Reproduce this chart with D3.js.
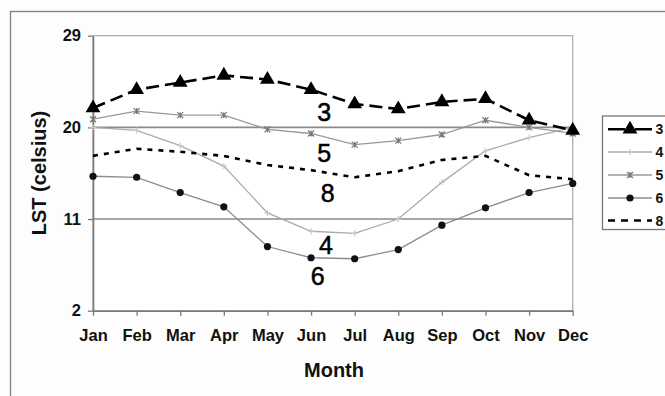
<!DOCTYPE html>
<html>
<head>
<meta charset="utf-8">
<script src="https://cdn.jsdelivr.net/npm/d3@7"></script>
<style>
  html, body { margin: 0; padding: 0; background: #fdfdfd; }
  svg { display: block; }
  text { font-family: "Liberation Sans", Arial, sans-serif; }
</style>
</head>
<body>
<svg id="chart" width="665" height="396"></svg>
<script>
const months = ["Jan","Feb","Mar","Apr","May","Jun","Jul","Aug","Sep","Oct","Nov","Dec"];
const yTicks = [2, 11, 20, 29];
const seriesNames = ["3", "4", "5", "6", "8"];
const s3 = [21.9, 23.7, 24.4, 25.1, 24.7, 23.7, 22.3, 21.8, 22.5, 22.8, 20.7, 19.7];
const s4 = [20.0, 19.7, 18.2, 16.2, 11.6, 9.8, 9.6, 11.0, 14.6, 17.7, 19.0, 20.0];
const s5 = [20.8, 21.6, 21.2, 21.2, 19.8, 19.4, 18.3, 18.7, 19.3, 20.7, 20.0, 19.4];
const s6 = [15.2, 15.1, 13.6, 12.2, 8.3, 7.2, 7.1, 8.0, 10.4, 12.1, 13.6, 14.5];
const s8 = [17.2, 17.9, 17.6, 17.2, 16.3, 15.8, 15.1, 15.7, 16.8, 17.2, 15.3, 14.9];
// inline label anchors: [series, month index, value]
const inlineLabels = [["3", 5.3, 20.6], ["5", 5.3, 16.6], ["8", 5.38, 12.7], ["4", 5.34, 7.55], ["6", 5.15, 4.52]];

const svg = d3.select("#chart");
const L = 93, R = 572.7, T = 35.7, B = 310.7;
const x = d3.scalePoint().domain(months).range([L, R]);
const y = d3.scaleLinear().domain([2, 29]).range([B, T]);
const xi = d3.scaleLinear().domain([0, 11]).range([L, R]);

// outer border
svg.append("rect").attr("x", 10.5).attr("y", 11.5).attr("width", 700).attr("height", 400)
  .attr("fill", "#fdfdfd").attr("stroke", "#808080").attr("stroke-width", 1.3);

// plot area
svg.append("rect").attr("x", L).attr("y", T).attr("width", R - L).attr("height", B - T)
  .attr("fill", "#ffffff").attr("stroke", "#a8a8a8").attr("stroke-width", 1.2);

// gridlines
svg.append("g").selectAll("line").data([11, 20]).join("line")
  .attr("x1", L).attr("x2", R).attr("y1", d => y(d)).attr("y2", d => y(d))
  .attr("stroke", "#8a8a8a").attr("stroke-width", 1.6);

// axes
const yAxis = svg.append("g").attr("transform", `translate(${L},0)`)
  .call(d3.axisLeft(y).tickValues(yTicks).tickSize(5).tickPadding(7).tickSizeOuter(0));
const xAxis = svg.append("g").attr("transform", `translate(0,${B})`)
  .call(d3.axisBottom(x).tickSize(5).tickPadding(14).tickSizeOuter(0));
[yAxis, xAxis].forEach(a => {
  a.select(".domain").attr("stroke", "#7a7a7a").attr("stroke-width", 1.6);
  a.selectAll(".tick line").attr("stroke", "#7a7a7a").attr("stroke-width", 1.3);
  a.selectAll(".tick text").attr("fill", "#111").attr("font-size", 16.5).attr("font-weight", "bold")
    .attr("font-family", "'Liberation Sans', Arial, sans-serif");
});

// axis titles
svg.append("text").attr("transform", "translate(39,173) rotate(-90)")
  .attr("text-anchor", "middle").attr("dominant-baseline", "central")
  .attr("font-size", 20).attr("font-weight", "bold").attr("fill", "#111").text("LST (celsius)");
svg.append("text").attr("x", 334).attr("y", 377).attr("text-anchor", "middle")
  .attr("font-size", 20).attr("font-weight", "bold").attr("fill", "#111").text("Month");

const line = d3.line().x((d, i) => x(months[i])).y(d => y(d));

const styles = {
  "3": { data: s3, stroke: "#000", width: 2.6, dash: "13,6", marker: "tri" },
  "4": { data: s4, stroke: "#aaaaaa", width: 1.3, dash: null, marker: "plus" },
  "5": { data: s5, stroke: "#999999", width: 1.3, dash: null, marker: "star" },
  "6": { data: s6, stroke: "#8c8c8c", width: 1.3, dash: null, marker: "dot" },
  "8": { data: s8, stroke: "#000", width: 2.6, dash: "5,6", marker: null }
};

function drawMarker(g, type, cx, cy) {
  if (type === "tri") {
    g.append("path").attr("d", d3.symbol(d3.symbolTriangle, 95)())
      .attr("transform", `translate(${cx},${cy})`).attr("fill", "#000");
  } else if (type === "plus") {
    g.append("path").attr("d", `M${cx-3},${cy}H${cx+3}M${cx},${cy-3}V${cy+3}`)
      .attr("stroke", "#c8c8c8").attr("stroke-width", 1.2);
  } else if (type === "star") {
    g.append("path").attr("d", `M${cx-3},${cy-3}L${cx+3},${cy+3}M${cx-3},${cy+3}L${cx+3},${cy-3}M${cx},${cy-3}V${cy+3}`)
      .attr("stroke", "#777").attr("stroke-width", 1.2);
  } else if (type === "dot") {
    g.append("circle").attr("cx", cx).attr("cy", cy).attr("r", 3.6).attr("fill", "#111");
  }
}

const drawOrder = ["4", "5", "6", "8", "3"];
drawOrder.forEach(k => {
  const s = styles[k];
  const g = svg.append("g");
  g.append("path").attr("d", line(s.data)).attr("fill", "none")
    .attr("stroke", s.stroke).attr("stroke-width", s.width)
    .attr("stroke-dasharray", s.dash);
  if (s.marker) s.data.forEach((v, i) => drawMarker(g, s.marker, x(months[i]), y(v)));
});

// inline labels
svg.append("g").selectAll("text").data(inlineLabels).join("text")
  .attr("x", d => xi(d[1])).attr("y", d => y(d[2])).attr("text-anchor", "middle")
  .attr("font-family", "'DejaVu Sans', Verdana, sans-serif").attr("font-size", 25)
  .attr("fill", "#000").attr("stroke", "#000").attr("stroke-width", 0.5).text(d => d[0]);

// legend
const legY = [129.3, 152, 175, 198, 220.5];
const leg = svg.append("g");
leg.append("rect").attr("x", 602.5).attr("y", 116).attr("width", 80).attr("height", 113.5)
  .attr("fill", "#ffffff").attr("stroke", "#777").attr("stroke-width", 1.3);
seriesNames.forEach((k, i) => {
  const s = styles[k];
  const ly = legY[i];
  leg.append("line").attr("x1", 608).attr("x2", 652).attr("y1", ly).attr("y2", ly)
    .attr("stroke", s.stroke).attr("stroke-width", s.width)
    .attr("stroke-dasharray", k === "3" ? "17,10" : (k === "8" ? "7,6" : null));
  if (s.marker) drawMarker(leg, s.marker, 630, ly);
  leg.append("text").attr("x", 655.5).attr("y", ly).attr("dominant-baseline", "central")
    .attr("font-size", 14).attr("font-weight", "bold").attr("fill", "#111").text(k);
});
</script>
</body>
</html>
